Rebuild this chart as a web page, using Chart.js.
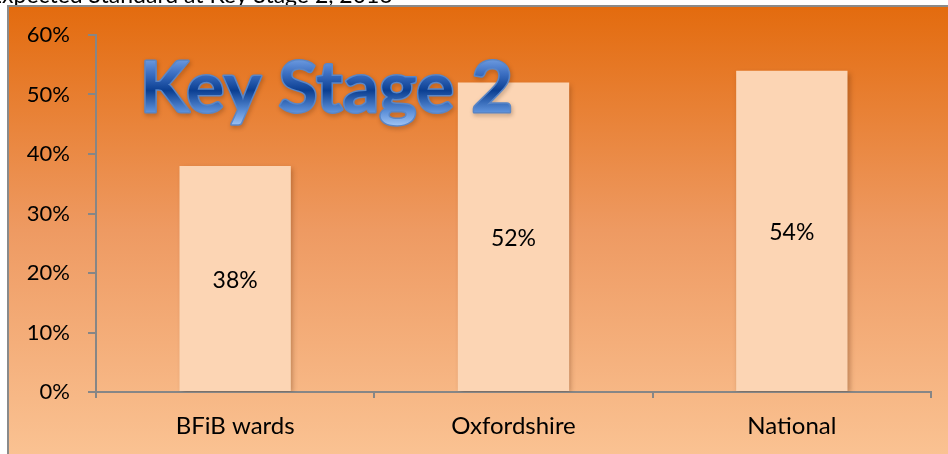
<!DOCTYPE html>
<html>
<head>
<meta charset="utf-8">
<script src="https://cdn.jsdelivr.net/npm/chart.js@4.4.0/dist/chart.umd.min.js"></script>
<style>
  html, body { margin: 0; padding: 0; background: #ffffff; overflow: hidden; }
  #wrap { position: relative; width: 948px; height: 454px; }
</style>
</head>
<body>
<div id="wrap"><canvas id="c" width="948" height="454"></canvas></div>
<script>
const categories = ['BFiB wards', 'Oxfordshire', 'National'];
const values = [38, 52, 54];
const yTickValues = [0, 10, 20, 30, 40, 50, 60];
const titleText = 'Key Stage 2';
const headerText = 'Pupils achieving the Expected Standard at Key Stage 2, 2016';

const FONT = 'Lato, "Open Sans", "DejaVu Sans", sans-serif';

const backgroundPlugin = {
  id: 'bgBox',
  beforeDraw(chart) {
    const ctx = chart.ctx;
    const W = chart.width, H = chart.height;
    ctx.save();
    ctx.fillStyle = '#ffffff';
    ctx.fillRect(0, 0, W, H);
    // clipped header line above the box
    ctx.font = '23px ' + FONT;
    ctx.fillStyle = '#000000';
    ctx.textBaseline = 'alphabetic';
    ctx.textAlign = 'left';
    const prefix = headerText.slice(0, headerText.indexOf('Key') + 2);
    const x0 = 236 - ctx.measureText(prefix).width;
    ctx.fillText(headerText, x0, 3);
    const g = ctx.createLinearGradient(0, 6, 0, H);
    g.addColorStop(0, '#E36B0E');
    g.addColorStop(0.5, '#EE9A62');
    g.addColorStop(1, '#FAC292');
    ctx.fillStyle = g;
    ctx.fillRect(8, 6, W - 8, H - 6);
    ctx.fillStyle = '#8a8a8a';
    ctx.fillRect(7, 5, 2, H - 5);
    ctx.fillRect(7, 5, W - 7, 2);
    ctx.restore();
  }
};

const shadowPlugin = {
  id: 'barShadow',
  beforeDatasetDraw(chart) {
    const ctx = chart.ctx;
    ctx.save();
    ctx.shadowColor = 'rgba(90,40,10,0.35)';
    ctx.shadowBlur = 5;
    ctx.shadowOffsetX = 2;
    ctx.shadowOffsetY = 2;
  },
  afterDatasetDraw(chart) {
    chart.ctx.restore();
  }
};

const labelPlugin = {
  id: 'labelsAndTitle',
  afterDatasetsDraw(chart) {
    const ctx = chart.ctx;
    ctx.save();
    ctx.font = '23px ' + FONT;
    ctx.fillStyle = '#000000';
    ctx.textAlign = 'center';
    ctx.textBaseline = 'middle';
    const meta = chart.getDatasetMeta(0);
    meta.data.forEach((bar, i) => {
      const v = chart.data.datasets[0].data[i];
      ctx.fillText(v + '%', bar.x, (bar.y + bar.base) / 2 + 2);
    });
    ctx.restore();

    // decorative big title
    ctx.save();
    ctx.font = 'bold 70px ' + FONT;
    const w = ctx.measureText(titleText).width;
    const targetW = 373;
    const left = 140, baseline = 112;
    ctx.translate(left, baseline);
    ctx.scale(targetW / w, 1);
    const g = ctx.createLinearGradient(0, -52, 0, 16);
    g.addColorStop(0, '#6A98DE');
    g.addColorStop(0.2, '#3C6FC2');
    g.addColorStop(0.45, '#0B3F92');
    g.addColorStop(0.75, '#5A8ED8');
    g.addColorStop(1, '#A9CBF8');
    ctx.shadowColor = 'rgba(60,30,10,0.35)';
    ctx.shadowBlur = 4;
    ctx.shadowOffsetX = 1;
    ctx.shadowOffsetY = 2;
    ctx.textAlign = 'left';
    ctx.textBaseline = 'alphabetic';
    ctx.lineJoin = 'round';
    ctx.strokeStyle = '#5A86C6';
    ctx.lineWidth = 3;
    ctx.strokeText(titleText, 0, 0);
    ctx.shadowColor = 'transparent';
    ctx.fillStyle = g;
    ctx.fillText(titleText, 0, 0);
    ctx.restore();
  }
};

new Chart(document.getElementById('c'), {
  type: 'bar',
  data: {
    labels: categories,
    datasets: [{
      data: values,
      backgroundColor: '#FCD5B4',
      borderWidth: 0,
      categoryPercentage: 1.0,
      barPercentage: 0.4
    }]
  },
  options: {
    responsive: false,
    animation: false,
    events: [],
    layout: { padding: { left: 0, top: 35, right: 17, bottom: 0 } },
    plugins: { legend: { display: false }, tooltip: { enabled: false }, title: { display: false } },
    scales: {
      x: {
        offset: true,
        grid: { drawOnChartArea: false, drawTicks: true, tickLength: 6, color: '#868686', lineWidth: 2, offset: true },
        border: { display: true, color: '#868686', width: 2 },
        ticks: { color: '#000000', font: { family: FONT, size: 24 }, padding: 14, maxRotation: 0 },
        afterFit(scale) { scale.height = 62; }
      },
      y: {
        min: 0,
        max: 60,
        afterBuildTicks(scale) { scale.ticks = yTickValues.map(v => ({ value: v })); },
        grid: { drawOnChartArea: false, drawTicks: true, tickLength: 8, color: '#868686', lineWidth: 2 },
        border: { display: true, color: '#868686', width: 2 },
        ticks: { color: '#000000', font: { family: FONT, size: 22 }, padding: 18, callback: v => v + '%' },
        afterFit(scale) { scale.width = 96; }
      }
    }
  },
  plugins: [backgroundPlugin, shadowPlugin, labelPlugin]
});
</script>
</body>
</html>
